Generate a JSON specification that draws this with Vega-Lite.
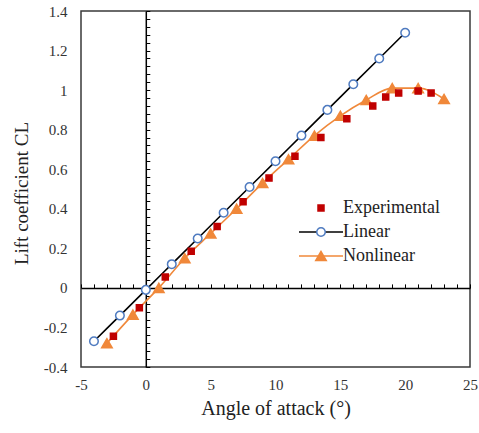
{
  "$schema": "https://vega.github.io/schema/vega-lite/v6.json",
  "width": 389,
  "height": 356,
  "autosize": {"type": "none"},
  "padding": {"left": 81, "top": 11, "right": 9, "bottom": 66},
  "background": "white",
  "config": {
    "view": {"stroke": "#3a3a3a", "strokeWidth": 1.5},
    "font": "Liberation Serif",
    "axis": {"grid": false}
  },
  "data": {
    "values": [
      {"series": "Linear", "angle": -4, "cl": -0.27},
      {"series": "Linear", "angle": -2, "cl": -0.14},
      {"series": "Linear", "angle": 0, "cl": -0.01},
      {"series": "Linear", "angle": 2, "cl": 0.12},
      {"series": "Linear", "angle": 4, "cl": 0.25},
      {"series": "Linear", "angle": 6, "cl": 0.38},
      {"series": "Linear", "angle": 8, "cl": 0.51},
      {"series": "Linear", "angle": 10, "cl": 0.64},
      {"series": "Linear", "angle": 12, "cl": 0.77},
      {"series": "Linear", "angle": 14, "cl": 0.9},
      {"series": "Linear", "angle": 16, "cl": 1.03},
      {"series": "Linear", "angle": 18, "cl": 1.16},
      {"series": "Linear", "angle": 20, "cl": 1.29},
      {"series": "Nonlinear", "angle": -3, "cl": -0.28},
      {"series": "Nonlinear", "angle": -1, "cl": -0.135},
      {"series": "Nonlinear", "angle": 1, "cl": 0.0},
      {"series": "Nonlinear", "angle": 3, "cl": 0.15},
      {"series": "Nonlinear", "angle": 5, "cl": 0.275},
      {"series": "Nonlinear", "angle": 7, "cl": 0.4},
      {"series": "Nonlinear", "angle": 9, "cl": 0.53},
      {"series": "Nonlinear", "angle": 11, "cl": 0.65},
      {"series": "Nonlinear", "angle": 13, "cl": 0.77},
      {"series": "Nonlinear", "angle": 15, "cl": 0.87},
      {"series": "Nonlinear", "angle": 17, "cl": 0.95},
      {"series": "Nonlinear", "angle": 19, "cl": 1.01},
      {"series": "Nonlinear", "angle": 21, "cl": 1.01},
      {"series": "Nonlinear", "angle": 23, "cl": 0.955},
      {"series": "Experimental", "angle": -2.5, "cl": -0.245},
      {"series": "Experimental", "angle": -0.5, "cl": -0.1},
      {"series": "Experimental", "angle": 1.5, "cl": 0.055},
      {"series": "Experimental", "angle": 3.5, "cl": 0.185},
      {"series": "Experimental", "angle": 5.5, "cl": 0.31},
      {"series": "Experimental", "angle": 7.5, "cl": 0.435},
      {"series": "Experimental", "angle": 9.5, "cl": 0.555},
      {"series": "Experimental", "angle": 11.5, "cl": 0.665},
      {"series": "Experimental", "angle": 13.5, "cl": 0.76},
      {"series": "Experimental", "angle": 15.5, "cl": 0.855},
      {"series": "Experimental", "angle": 17.5, "cl": 0.92},
      {"series": "Experimental", "angle": 18.5, "cl": 0.965},
      {"series": "Experimental", "angle": 19.5, "cl": 0.985},
      {"series": "Experimental", "angle": 21, "cl": 0.995},
      {"series": "Experimental", "angle": 22, "cl": 0.985}
    ]
  },
  "resolve": {"axis": {"x": "independent", "y": "independent"}},
  "layer": [
    {
      "transform": [{"filter": "datum.series != 'Experimental'"}],
      "mark": {"type": "line", "interpolate": "monotone", "strokeWidth": 1.6},
      "encoding": {
        "x": {
          "field": "angle", "type": "quantitative",
          "scale": {"domain": [-5, 25], "nice": false, "zero": false},
          "axis": {
            "orient": "bottom", "title": "Angle of attack (°)", "values": [-5, 0, 5, 10, 15, 20, 25],
            "labelExpr": "'' + datum.value", "ticks": false, "tickSize": 0, "domain": false,
            "labelFont": "Liberation Serif", "labelFontSize": 15, "labelColor": "#333333", "labelPadding": 10,
            "titleFont": "Liberation Serif", "titleFontSize": 20, "titleFontWeight": "normal", "titleColor": "#222222", "titlePadding": 6,
            "labelFlush": false, "labelOverlap": false
          }
        },
        "y": {
          "field": "cl", "type": "quantitative",
          "scale": {"domain": [-0.4, 1.4], "nice": false, "zero": false},
          "axis": {
            "orient": "left", "title": "Lift coefficient CL", "values": [-0.4, -0.2, 0, 0.2, 0.4, 0.6, 0.8, 1, 1.2, 1.4],
            "labelExpr": "'' + round(datum.value * 10) / 10", "ticks": false, "tickSize": 0, "domain": false,
            "labelFont": "Liberation Serif", "labelFontSize": 15, "labelColor": "#333333", "labelPadding": 14,
            "titleFont": "Liberation Serif", "titleFontSize": 19, "titleFontWeight": "normal", "titleColor": "#222222", "titlePadding": 12,
            "titleY": 182,
            "labelFlush": false, "labelOverlap": false
          }
        },
        "color": {
          "field": "series", "type": "nominal",
          "scale": {"domain": ["Linear", "Nonlinear"], "range": ["#000000", "#F0883A"]},
          "legend": {
            "orient": "none", "legendX": 231, "legendY": 212, "title": null,
            "symbolType": "M-4.4,0H4.4", "symbolSize": 100, "symbolStrokeWidth": 1.6,
            "labelFontSize": 18, "labelExpr": "''", "rowPadding": 6
          }
        }
      }
    },
    {
      "mark": {"type": "point", "opacity": 1, "strokeWidth": 1.5},
      "encoding": {
        "x": {
          "field": "angle", "type": "quantitative",
          "axis": {
            "orient": "bottom", "offset": -79.1, "title": null, "labels": false,
            "domain": true, "domainColor": "#000000", "domainWidth": 1.5,
            "ticks": true, "tickColor": "#000000", "tickWidth": 1, "tickSize": -4,
            "values": [-5,-4,-3,-2,-1,0,1,2,3,4,5,6,7,8,9,10,11,12,13,14,15,16,17,18,19,20,21,22,23,24,25]
          }
        },
        "y": {
          "field": "cl", "type": "quantitative",
          "axis": {
            "orient": "left", "offset": -64.8, "title": null, "labels": false,
            "domain": true, "domainColor": "#000000", "domainWidth": 1.5,
            "ticks": true, "tickColor": "#000000", "tickWidth": 1, "tickSize": -4,
            "values": [-0.4,-0.36,-0.32,-0.28,-0.24,-0.2,-0.16,-0.12,-0.08,-0.04,0,0.04,0.08,0.12,0.16,0.2,0.24,0.28,0.32,0.36,0.4,0.44,0.48,0.52,0.56,0.6,0.64,0.68,0.72,0.76,0.8,0.84,0.88,0.92,0.96,1,1.04,1.08,1.12,1.16,1.2,1.24,1.28,1.32,1.36,1.4]
          }
        },
        "shape": {
          "field": "series", "type": "nominal",
          "scale": {"domain": ["Experimental", "Linear", "Nonlinear"], "range": ["square", "circle", "triangle-up"]},
          "legend": {"orient": "none", "legendX": 231, "legendY": 188, "title": null, "labelFontSize": 18, "labelColor": "#222222", "labelOffset": 13, "rowPadding": 6, "symbolStrokeWidth": 1.5}
        },
        "fill": {
          "field": "series", "type": "nominal",
          "scale": {"domain": ["Experimental", "Linear", "Nonlinear"], "range": ["#C00000", "#FFFFFF", "#F0883A"]},
          "legend": {"orient": "none", "legendX": 231, "legendY": 188, "title": null, "labelFontSize": 18, "labelColor": "#222222", "labelOffset": 13, "rowPadding": 6, "symbolStrokeWidth": 1.5}
        },
        "stroke": {
          "field": "series", "type": "nominal",
          "scale": {"domain": ["Experimental", "Linear", "Nonlinear"], "range": ["#C00000", "#4F7BC0", "#F0883A"]},
          "legend": {"orient": "none", "legendX": 231, "legendY": 188, "title": null, "labelFontSize": 18, "labelColor": "#222222", "labelOffset": 13, "rowPadding": 6, "symbolStrokeWidth": 1.5}
        },
        "size": {
          "field": "series", "type": "nominal",
          "scale": {"domain": ["Experimental", "Linear", "Nonlinear"], "range": [36, 110, 100]},
          "legend": {"orient": "none", "legendX": 231, "legendY": 188, "title": null, "labelFontSize": 18, "labelColor": "#222222", "labelOffset": 13, "rowPadding": 6, "symbolStrokeWidth": 1.5}
        }
      }
    }
  ]
}
